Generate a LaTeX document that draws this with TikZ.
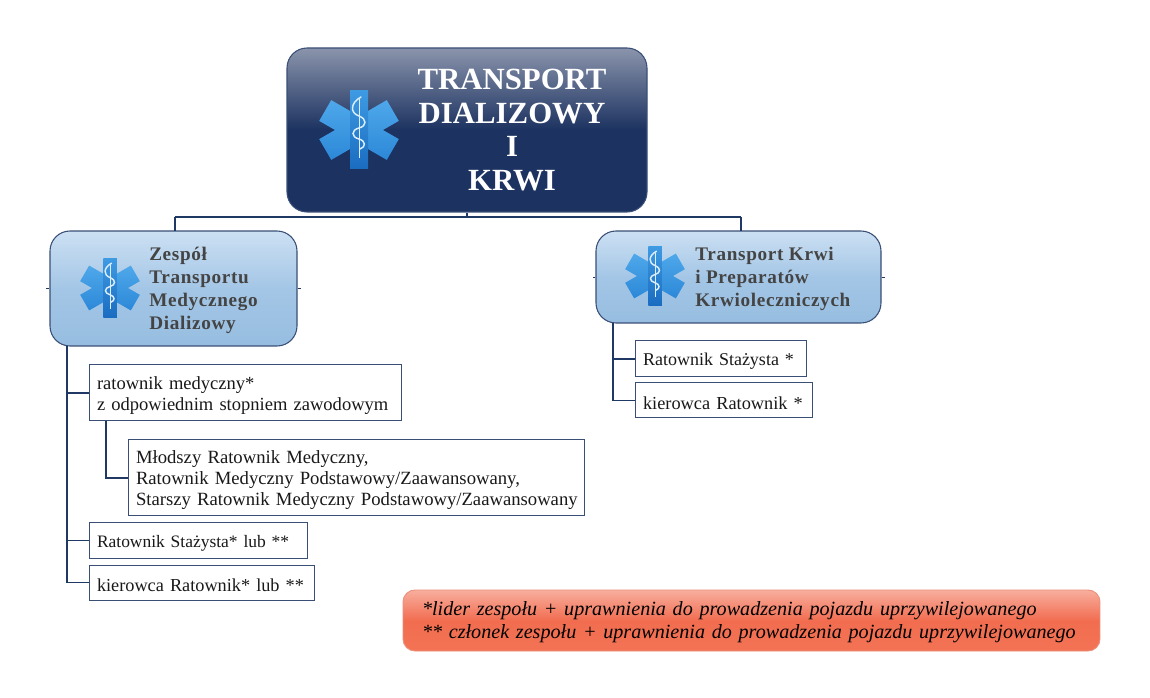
\documentclass[tikz,border=0pt]{standalone}
\usepackage{fontspec}
\setmainfont{Liberation Serif}
\definecolor{navy}{HTML}{1C3260}
\definecolor{navytop}{HTML}{8A94AC}
\definecolor{lineblue}{HTML}{1F3864}
\definecolor{edgeblue}{HTML}{3A4F75}
\definecolor{skytop}{HTML}{CCE0F3}
\definecolor{skymid}{HTML}{A4C6E6}
\definecolor{skybot}{HTML}{96BDE0}
\definecolor{greytext}{HTML}{444444}
\definecolor{redtop}{HTML}{F8AE9E}
\definecolor{redmid}{HTML}{F26D50}
\definecolor{redbot}{HTML}{F37355}
\definecolor{rededge}{HTML}{EC8F7B}
\definecolor{armtop}{HTML}{4FA8EA}
\definecolor{armbot}{HTML}{2C88D8}
\definecolor{bartop}{HTML}{3E9AE2}
\definecolor{barbot}{HTML}{1A6CC0}
\definecolor{snakecol}{HTML}{DCEEFB}
\tikzset{
  x=0.75pt,y=-0.75pt,
  staroflife/.pic={
    \shade[top color=armtop,bottom color=armbot,rotate=60] (-12,-39) rectangle (12,39);
    \shade[top color=armtop,bottom color=armbot,rotate=-60] (-12,-39) rectangle (12,39);
    \shade[top color=bartop,bottom color=barbot] (-9,-39) rectangle (9,39);
    \draw[snakecol,line width=0.6pt] (0,-31) -- (0,28);
    \draw[snakecol,line width=1.1pt,line cap=round] (2,-33) .. controls (-9,-27) and (-9,-17) .. (0,-14)
      .. controls (8,-11) and (8,-4) .. (0,-2) .. controls (-8,0) and (-8,7) .. (0,9)
      .. controls (7,11) and (7,17) .. (1,19);
  },
  pxbox/.style 2 args={draw=edgeblue,line width=0.75pt,fill=white,align=left,anchor=center,
    text width=(#1-16)*0.75pt,inner xsep=6pt,inner ysep=0pt,minimum height=#2*0.75pt,
    text=black!90,execute at begin node={\rule{0pt}{13.2pt}}},
  fs/.style={font=\fontsize{#1}{15.75pt}\selectfont},
  headbox/.style 2 args={draw=edgeblue,line width=0.8pt,rounded corners=15pt,inner sep=0pt,
    minimum width=#1*0.75pt,minimum height=#2*0.75pt},
  skyshade/.style={top color=skytop,bottom color=skybot,middle color=skymid},
  headtext/.style={anchor=west,align=left,inner sep=0pt,text=greytext,
    font=\fontsize{14.4pt}{17.25pt}\selectfont\bfseries\addfontfeature{LetterSpace=3.5}},
  link/.style={draw=lineblue,line width=1pt},
  mainbar/.style={draw=lineblue,line width=1.4pt},
  tick/.style={draw=lineblue,line width=0.6pt},
}
\begin{document}
\begin{tikzpicture}
\useasboundingbox (0,0) rectangle (1150,698);
% top box
\node[headbox={360}{164},top color=navytop,bottom color=navy,middle color=navy] (top) at (467,130) {};
\pic at (359,130) {staroflife};
\node[align=center,inner sep=0pt,text=white,font=\fontsize{23.1pt}{25.4pt}\selectfont\bfseries] (toptext) at (512,130) {TRANSPORT\\DIALIZOWY\\I\\KRWI};
% left head
\node[headbox={247}{115},skyshade] (left) at (173.5,288.5) {};
\pic[scale=0.75] at (110,288) {staroflife};
\node[headtext] (lefttext) at (149,290.5) {Zespół\\Transportu\\Medycznego\\Dializowy};
% right head
\node[headbox={285}{92},skyshade] (right) at (738.5,277) {};
\pic[scale=0.75] at (655,276) {staroflife};
\node[headtext] (righttext) at (695,279) {Transport Krwi\\i Preparatów\\Krwioleczniczych};
% left boxes
\node[pxbox={312}{56},fs=13.9pt] (b1) at (245,393) {ratownik medyczny*\\z odpowiednim stopniem zawodowym};
\node[pxbox={456}{76},fs=14pt] (b2) at (356,478) {Młodszy Ratownik Medyczny,\\Ratownik Medyczny Podstawowy/Zaawansowany,\\\rlap{Starszy Ratownik Medyczny Podstawowy/Zaawansowany}};
\node[pxbox={218}{35},fs=13.1pt] (b3) at (198,540.5) {Ratownik Stażysta* lub **};
\node[pxbox={225}{35},fs=13.7pt] (b4) at (201.5,582.5) {kierowca Ratownik* lub **};
% right boxes
\node[pxbox={171}{36},fs=13.5pt] (c1) at (720.5,359) {Ratownik Stażysta *};
\node[pxbox={177}{35},fs=13.75pt] (c2) at (723.5,400.5) {kierowca Ratownik *};
% legend
\node[draw=rededge,line width=0.7pt,rounded corners=9pt,top color=redtop,bottom color=redbot,middle color=redmid,
  minimum width=697*0.75pt,minimum height=61*0.75pt,text width=659*0.75pt,inner xsep=0pt,inner ysep=0pt,align=left,
  font=\fontsize{15.1pt}{17.4pt}\selectfont\itshape,text=black,execute at begin node={\rule{0pt}{13.3pt}}] (legend) at (751.5,620.5)
  {*lider zespołu + uprawnienia do prowadzenia pojazdu uprzywilejowanego\\{}** członek zespołu + uprawnienia do prowadzenia pojazdu uprzywilejowanego};
% connectors
\coordinate (hub) at (467,217);
\coordinate (hubL) at (175,217);
\coordinate (hubR) at (741,217);
\coordinate (dropL) at (175,231);
\coordinate (dropR) at (741,231);
\draw[link] (top.south) -- (hub);
\draw[mainbar] (hubL) -- (hubR);
\draw[link] (dropL) -- (hubL);
\draw[link] (dropR) -- (hubR);
\coordinate (tl) at (67,346);
\coordinate (t2) at (106,421);
\coordinate (tr) at (613,323);
\draw[link] (tl) |- (b1.west);
\draw[link] (tl) |- (b3.west);
\draw[link] (tl) |- (b4.west);
\draw[link] (t2) |- (b2.west);
\draw[link] (tr) |- (c1.west);
\draw[link] (tr) |- (c2.west);
% ticks
\draw[tick] (left.west) -- ++(-3,0);
\draw[tick] (left.east) -- ++(3,0);
\draw[tick] (right.west) -- ++(-2,0);
\draw[tick] (right.east) -- ++(3,0);
\end{tikzpicture}
\end{document}
